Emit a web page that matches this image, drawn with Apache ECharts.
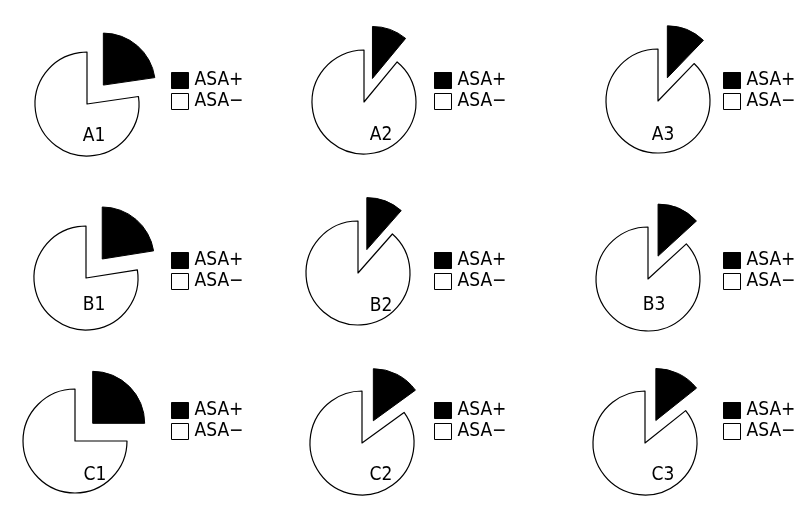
<!DOCTYPE html>
<html>
<head>
<meta charset="utf-8">
<script src="https://cdn.jsdelivr.net/npm/echarts@6/dist/echarts.min.js"></script>
<style>
html,body{margin:0;padding:0;background:#fff;}
#c{width:800px;height:520px;}
</style>
</head>
<body>
<div id="c"></div>
<script>
// ---- data ----
const panels = ['A1','A2','A3','B1','B2','B3','C1','C2','C3'];
const categories = ['ASA+','ASA\u2212'];
const asaPos = [22.7, 11.0, 12.2, 22.5, 11.5, 13.2, 25.0, 15.0, 14.3]; // % ASA+
const asaNeg = [77.3, 89.0, 87.8, 77.5, 88.5, 86.8, 75.0, 85.0, 85.7]; // % ASA-

// ---- layout (pixels) ----
const pieCenters = [[87,104],[364,102],[658,101],[86,278],[358,273],[648,279],[75,441],[362,443],[645,443]];
const labelPos   = [[94,136],[381,135],[663,135],[94,305],[381,306],[654,305],[95,475],[381,475],[663,475]];
const legendPos  = [[171,71],[434,71],[723,71],[171,251],[434,251],[723,251],[171,401],[434,401],[723,401]];

const FONT = '"Liberation Sans Narrow","DejaVu Sans Condensed","Noto Sans",sans-serif';
const chart = echarts.init(document.getElementById('c'), null, {renderer:'canvas'});

const black = {color:'#000', borderColor:'#000', borderWidth:1};
const white = {color:'#fff', borderColor:'#000', borderWidth:1.2};

const series = panels.map((p,i)=>({
  type:'pie',
  name:p,
  center:pieCenters[i],
  radius:52,
  startAngle:90,
  clockwise:true,
  selectedMode:true,
  selectedOffset:25,
  silent:true,
  animation:false,
  label:{show:false},
  labelLine:{show:false},
  emphasis:{disabled:true},
  data:[
    {name:categories[0], value:asaPos[i], selected:true, itemStyle:black},
    {name:categories[1], value:asaNeg[i], itemStyle:white}
  ]
}));

const legends = panels.map((p,i)=>({
  orient:'vertical',
  left:legendPos[i][0],
  top:legendPos[i][1],
  padding:0,
  itemWidth:17,
  itemHeight:16,
  itemGap:2,
  icon:'rect',
  selectedMode:false,
  textStyle:{fontFamily:FONT, fontSize:19, color:'#000', lineHeight:16, padding:[0,0,0,1]},
  data:[
    {name:categories[0], itemStyle:black},
    {name:categories[1], itemStyle:{color:'#fff', borderColor:'#000', borderWidth:1}}
  ]
}));

const graphics = panels.map((p,i)=>({
  type:'text',
  z:100,
  x:labelPos[i][0],
  y:labelPos[i][1],
  style:{text:p, font:'19px '+FONT, fill:'#000', textAlign:'center', textVerticalAlign:'middle'}
}));

chart.setOption({
  backgroundColor:'#fff',
  animation:false,
  legend:legends,
  series:series,
  graphic:graphics
});
</script>
</body>
</html>
